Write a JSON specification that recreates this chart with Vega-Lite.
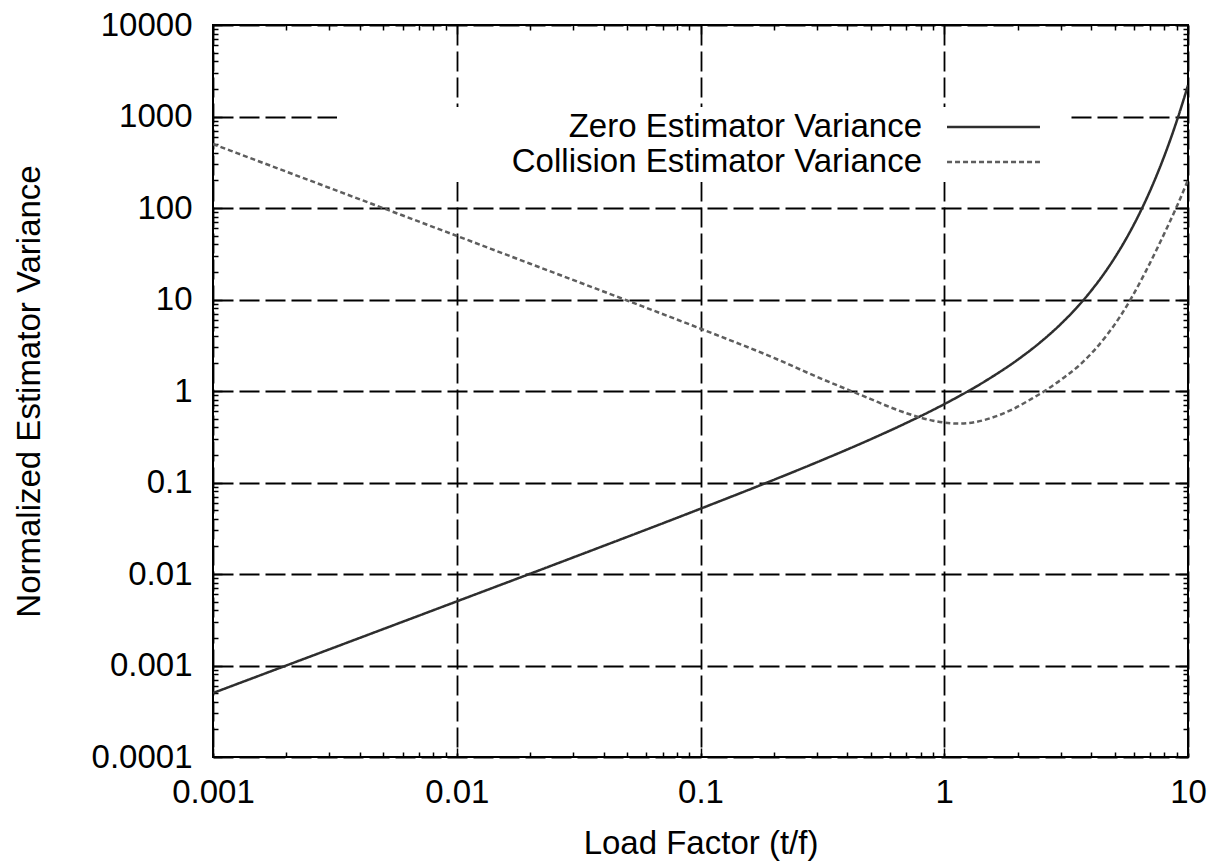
{
  "$schema": "https://vega.github.io/schema/vega-lite/v6.json",
  "width": 975,
  "height": 732,
  "autosize": {"type": "none"},
  "padding": {"left": 213, "top": 25, "right": 27, "bottom": 105},
  "background": "white",
  "config": {
    "view": {"stroke": "black", "strokeWidth": 2},
    "font": "Liberation Sans",
    "legend": {
      "orient": "none",
      "legendX": 124,
      "legendY": 82,
      "fillColor": "white",
      "padding": 2.5,
      "symbolType": "M-2.86,0H2.86M4,0",
      "symbolSize": 1056,
      "symbolStrokeWidth": 2.5,
      "labelAlign": "right",
      "labelOffset": -89,
      "symbolOffset": 636.5,
      "labelLimit": 1000,
      "labelFontSize": 33,
      "labelFont": "Liberation Sans",
      "labelColor": "black",
      "rowPadding": 0
    }
  },
  "datasets": {
    "curves": [
      {"t": 0.001, "v": 0.0005002, "series": "Zero Estimator Variance"},
      {"t": 0.003, "v": 0.0015015, "series": "Zero Estimator Variance"},
      {"t": 0.01, "v": 0.005017, "series": "Zero Estimator Variance"},
      {"t": 0.03, "v": 0.01515, "series": "Zero Estimator Variance"},
      {"t": 0.1, "v": 0.05171, "series": "Zero Estimator Variance"},
      {"t": 0.2, "v": 0.10701, "series": "Zero Estimator Variance"},
      {"t": 0.3, "v": 0.1662, "series": "Zero Estimator Variance"},
      {"t": 0.5, "v": 0.29744, "series": "Zero Estimator Variance"},
      {"t": 0.7, "v": 0.44822, "series": "Zero Estimator Variance"},
      {"t": 1.0, "v": 0.71828, "series": "Zero Estimator Variance"},
      {"t": 1.5, "v": 1.32113, "series": "Zero Estimator Variance"},
      {"t": 2.0, "v": 2.19453, "series": "Zero Estimator Variance"},
      {"t": 2.5, "v": 3.473, "series": "Zero Estimator Variance"},
      {"t": 3.0, "v": 5.36185, "series": "Zero Estimator Variance"},
      {"t": 3.5, "v": 8.17584, "series": "Zero Estimator Variance"},
      {"t": 4.0, "v": 12.3995, "series": "Zero Estimator Variance"},
      {"t": 4.5, "v": 18.7816, "series": "Zero Estimator Variance"},
      {"t": 5.0, "v": 28.4826, "series": "Zero Estimator Variance"},
      {"t": 5.5, "v": 43.3076, "series": "Zero Estimator Variance"},
      {"t": 6.0, "v": 66.0715, "series": "Zero Estimator Variance"},
      {"t": 6.5, "v": 101.176, "series": "Zero Estimator Variance"},
      {"t": 7.0, "v": 155.519, "series": "Zero Estimator Variance"},
      {"t": 7.5, "v": 239.939, "series": "Zero Estimator Variance"},
      {"t": 8.0, "v": 371.495, "series": "Zero Estimator Variance"},
      {"t": 8.5, "v": 577.091, "series": "Zero Estimator Variance"},
      {"t": 9.0, "v": 899.231, "series": "Zero Estimator Variance"},
      {"t": 9.5, "v": 1405.18, "series": "Zero Estimator Variance"},
      {"t": 10.0, "v": 2201.55, "series": "Zero Estimator Variance"},
      {"t": 0.001, "v": 500, "series": "Collision Estimator Variance"},
      {"t": 0.002, "v": 249.5, "series": "Collision Estimator Variance"},
      {"t": 0.005, "v": 99.5, "series": "Collision Estimator Variance"},
      {"t": 0.01, "v": 49.6, "series": "Collision Estimator Variance"},
      {"t": 0.02, "v": 24.6, "series": "Collision Estimator Variance"},
      {"t": 0.05, "v": 9.75, "series": "Collision Estimator Variance"},
      {"t": 0.1, "v": 4.8, "series": "Collision Estimator Variance"},
      {"t": 0.2, "v": 2.3, "series": "Collision Estimator Variance"},
      {"t": 0.3, "v": 1.43, "series": "Collision Estimator Variance"},
      {"t": 0.4, "v": 1.04, "series": "Collision Estimator Variance"},
      {"t": 0.5, "v": 0.815, "series": "Collision Estimator Variance"},
      {"t": 0.6, "v": 0.665, "series": "Collision Estimator Variance"},
      {"t": 0.7, "v": 0.572, "series": "Collision Estimator Variance"},
      {"t": 0.8, "v": 0.512, "series": "Collision Estimator Variance"},
      {"t": 0.9, "v": 0.474, "series": "Collision Estimator Variance"},
      {"t": 1.0, "v": 0.452, "series": "Collision Estimator Variance"},
      {"t": 1.16, "v": 0.44, "series": "Collision Estimator Variance"},
      {"t": 1.337, "v": 0.457, "series": "Collision Estimator Variance"},
      {"t": 1.541, "v": 0.503, "series": "Collision Estimator Variance"},
      {"t": 1.915, "v": 0.634, "series": "Collision Estimator Variance"},
      {"t": 2.247, "v": 0.803, "series": "Collision Estimator Variance"},
      {"t": 2.639, "v": 1.038, "series": "Collision Estimator Variance"},
      {"t": 3.07, "v": 1.377, "series": "Collision Estimator Variance"},
      {"t": 3.605, "v": 1.939, "series": "Collision Estimator Variance"},
      {"t": 4.076, "v": 2.689, "series": "Collision Estimator Variance"},
      {"t": 4.653, "v": 4.103, "series": "Collision Estimator Variance"},
      {"t": 5.26, "v": 6.486, "series": "Collision Estimator Variance"},
      {"t": 5.892, "v": 10.67, "series": "Collision Estimator Variance"},
      {"t": 6.662, "v": 19.57, "series": "Collision Estimator Variance"},
      {"t": 7.462, "v": 35.83, "series": "Collision Estimator Variance"},
      {"t": 8.278, "v": 64.07, "series": "Collision Estimator Variance"},
      {"t": 9.1, "v": 111.4, "series": "Collision Estimator Variance"},
      {"t": 10.0, "v": 202.3, "series": "Collision Estimator Variance"}
    ]
  },
  "data": {"name": "curves"},
  "layer": [
    {
      "mark": {"type": "line", "strokeWidth": 2.5, "interpolate": "monotone", "clip": true},
      "encoding": {
        "x": {
          "field": "t", "type": "quantitative",
          "scale": {"type": "log", "domain": [0.001, 10], "nice": false},
          "axis": {
            "orient": "bottom",
            "title": "Load Factor (t/f)",
            "titleFont": "Liberation Sans", "titleFontSize": 33, "titleFontWeight": "normal", "titleColor": "black",
            "titlePadding": 14,
            "values": [0.001,0.002,0.003,0.004,0.005,0.006,0.007,0.008,0.009,0.01,0.02,0.03,0.04,0.05,0.06,0.07,0.08,0.09,0.1,0.2,0.3,0.4,0.5,0.6,0.7,0.8,0.9,1,2,3,4,5,6,7,8,9,10],
            "labelExpr": "abs(log(datum.value)/LN10 - round(log(datum.value)/LN10)) < 0.001 ? format(datum.value, '~g') : ''",
            "labelFont": "Liberation Sans", "labelFontSize": 33, "labelColor": "black",
            "labelOverlap": false, "labelFlush": false, "labelPadding": 28,
            "domain": false,
            "tickColor": "black", "tickWidth": 1.5,
            "tickSize": {"condition": {"test": "abs(log(datum.value)/LN10 - round(log(datum.value)/LN10)) < 0.001", "value": -9}, "value": -5},
            "grid": true, "gridColor": "black", "gridWidth": 1.8, "gridDash": [20, 6],
            "gridOpacity": {"condition": {"test": "abs(log(datum.value)/LN10 - round(log(datum.value)/LN10)) < 0.001", "value": 1}, "value": 0}
          }
        },
        "y": {
          "field": "v", "type": "quantitative",
          "scale": {"type": "log", "domain": [0.0001, 10000], "nice": false},
          "axis": {
            "orient": "left",
            "title": "Normalized Estimator Variance",
            "titleFont": "Liberation Sans", "titleFontSize": 33, "titleFontWeight": "normal", "titleColor": "black",
            "titlePadding": 45,
            "values": [0.0001,0.0002,0.0003,0.0004,0.0005,0.0006,0.0007,0.0008,0.0009,0.001,0.002,0.003,0.004,0.005,0.006,0.007,0.008,0.009,0.01,0.02,0.03,0.04,0.05,0.06,0.07,0.08,0.09,0.1,0.2,0.3,0.4,0.5,0.6,0.7,0.8,0.9,1,2,3,4,5,6,7,8,9,10,20,30,40,50,60,70,80,90,100,200,300,400,500,600,700,800,900,1000,2000,3000,4000,5000,6000,7000,8000,9000,10000],
            "labelExpr": "abs(log(datum.value)/LN10 - round(log(datum.value)/LN10)) < 0.001 ? format(datum.value, '~g') : ''",
            "labelFont": "Liberation Sans", "labelFontSize": 33, "labelColor": "black",
            "labelOverlap": false, "labelFlush": false, "labelPadding": 30,
            "domain": false,
            "tickColor": "black", "tickWidth": 1.5,
            "tickSize": {"condition": {"test": "abs(log(datum.value)/LN10 - round(log(datum.value)/LN10)) < 0.001", "value": -9}, "value": -5},
            "grid": true, "gridColor": "black", "gridWidth": 1.8, "gridDash": [20, 6],
            "gridOpacity": {"condition": {"test": "abs(log(datum.value)/LN10 - round(log(datum.value)/LN10)) < 0.001", "value": 1}, "value": 0}
          }
        },
        "color": {
          "field": "series", "type": "nominal",
          "scale": {"domain": ["Zero Estimator Variance", "Collision Estimator Variance"], "range": ["#2e2e2e", "#5e5e5e"]},
          "legend": {"title": null}
        },
        "strokeDash": {
          "field": "series", "type": "nominal",
          "scale": {"domain": ["Zero Estimator Variance", "Collision Estimator Variance"], "range": [[1, 0], [5, 3]]},
          "legend": {"title": null}
        }
      }
    },
    {
      "mark": {"type": "line", "opacity": 0},
      "encoding": {
        "x": {
          "field": "t", "type": "quantitative",
          "scale": {"type": "log", "domain": [0.001, 10], "nice": false},
          "axis": {
            "orient": "top", "title": null, "labels": false, "grid": false, "domain": false,
            "values": [0.001,0.002,0.003,0.004,0.005,0.006,0.007,0.008,0.009,0.01,0.02,0.03,0.04,0.05,0.06,0.07,0.08,0.09,0.1,0.2,0.3,0.4,0.5,0.6,0.7,0.8,0.9,1,2,3,4,5,6,7,8,9,10],
            "tickColor": "black", "tickWidth": 1.5,
            "tickSize": {"condition": {"test": "abs(log(datum.value)/LN10 - round(log(datum.value)/LN10)) < 0.001", "value": -9}, "value": -5}
          }
        },
        "y": {
          "field": "v", "type": "quantitative",
          "scale": {"type": "log", "domain": [0.0001, 10000], "nice": false},
          "axis": {
            "orient": "right", "title": null, "labels": false, "grid": false, "domain": false,
            "values": [0.0001,0.0002,0.0003,0.0004,0.0005,0.0006,0.0007,0.0008,0.0009,0.001,0.002,0.003,0.004,0.005,0.006,0.007,0.008,0.009,0.01,0.02,0.03,0.04,0.05,0.06,0.07,0.08,0.09,0.1,0.2,0.3,0.4,0.5,0.6,0.7,0.8,0.9,1,2,3,4,5,6,7,8,9,10,20,30,40,50,60,70,80,90,100,200,300,400,500,600,700,800,900,1000,2000,3000,4000,5000,6000,7000,8000,9000,10000],
            "tickColor": "black", "tickWidth": 1.5,
            "tickSize": {"condition": {"test": "abs(log(datum.value)/LN10 - round(log(datum.value)/LN10)) < 0.001", "value": -9}, "value": -5}
          }
        }
      }
    }
  ],
  "resolve": {"axis": {"x": "independent", "y": "independent"}}
}
